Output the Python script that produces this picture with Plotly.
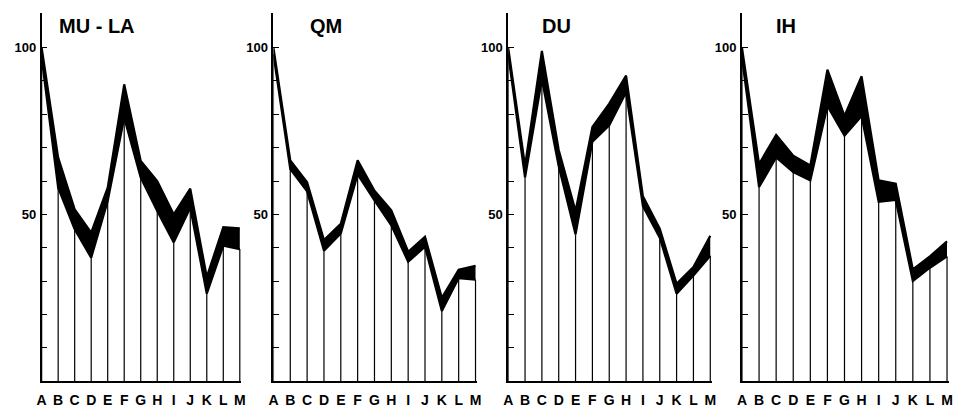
import plotly.graph_objects as go

categories = ["A", "B", "C", "D", "E", "F", "G", "H", "I", "J", "K", "L", "M"]
panel_titles = ["MU - LA", "QM", "DU", "IH"]

mula_upper = [100, 67, 51.5, 44.5, 58, 89, 66, 60, 50, 57.7, 31.2, 46.2, 45.8]
mula_lower = [97, 58, 45.5, 37, 54, 79, 61, 51, 41.6, 52, 26.2, 40.6, 39.6]

qm_upper = [100, 66.2, 59.6, 42.3, 47.2, 66.2, 57.1, 51.2, 38.8, 43.3, 25, 33.4, 34.6]
qm_lower = [98, 63.6, 56.9, 39.1, 44.3, 62, 54.2, 46.7, 35.8, 40.3, 21, 30.9, 30.4]

du_upper = [100, 64.5, 99, 69.3, 51, 76.2, 83.2, 91.6, 55.4, 45.7, 29.2, 34.2, 43.6]
du_lower = [98, 61, 90.5, 64.4, 44, 71.8, 76.7, 86.6, 52.5, 43, 26.2, 31.7, 37.6]

ih_upper = [100, 65.1, 73.8, 67.6, 64.7, 93.4, 79.5, 91.4, 60.2, 59.2, 33.5, 37.4, 41.9]
ih_lower = [97, 58.2, 67.1, 62.7, 60.2, 82.5, 73.6, 79.5, 53.8, 54.3, 30, 34, 37.4]

y_tickvals = [0, 10, 20, 30, 40, 50, 60, 70, 80, 90, 100]
y_ticktext = ["", "", "", "", "", "50", "", "", "", "", "100"]

series = [(mula_upper, mula_lower), (qm_upper, qm_lower),
          (du_upper, du_lower), (ih_upper, ih_lower)]

W, H = 953, 408
# pixel layout per panel: (x of first category, spacing), title x
panel_px = [(37, 16.67, 52), (271, 17.0, 306), (508, 17.0, 540), (744, 17.25, 776)]
XR = 12.1
y0_px, ytop_px = 383, 13
YR = 110.4

fig = go.Figure()
layout = dict(
    width=W, height=H, margin=dict(l=0, r=0, t=0, b=0),
    paper_bgcolor="white", plot_bgcolor="white", showlegend=False,
)

xpos = list(range(len(categories)))
for k, ((up, lo), (p0, s, tx)) in enumerate(zip(series, panel_px)):
    n = "" if k == 0 else str(k + 1)
    xa, ya = "x" + n, "y" + n
    # vertical drop lines from axis to lower edge
    vx, vy = [], []
    for i, v in enumerate(lo):
        vx += [xpos[i], xpos[i], None]
        vy += [0, v, None]
    fig.add_trace(go.Scatter(x=vx, y=vy, mode="lines", xaxis=xa, yaxis=ya,
                             line=dict(color="black", width=1.2), hoverinfo="skip"))
    fig.add_trace(go.Scatter(x=xpos, y=lo, mode="lines", xaxis=xa, yaxis=ya,
                             line=dict(color="black", width=2.2), hoverinfo="skip"))
    fig.add_trace(go.Scatter(x=xpos, y=up, mode="lines", xaxis=xa, yaxis=ya,
                             fill="tonexty", fillcolor="black",
                             line=dict(color="black", width=2.2), hoverinfo="skip"))
    d0 = p0 / W
    d1 = min((p0 + XR * s) / W, 1.0)
    layout["xaxis" + n] = dict(
        domain=[d0, d1], range=[0, XR], anchor=ya,
        tickmode="array", tickvals=xpos,
        ticktext=["<b>%s</b>" % c for c in categories],
        ticks="", ticklabelstandoff=5,
        tickfont=dict(family="Liberation Sans", size=14, color="black"),
        showgrid=False, zeroline=False,
        showline=True, linecolor="black", linewidth=1.6,
    )
    layout["yaxis" + n] = dict(
        domain=[1 - y0_px / H, 1 - ytop_px / H], range=[0, YR], anchor=xa,
        tickmode="array", tickvals=y_tickvals,
        ticktext=["<b>%s</b>" % t if t else "" for t in y_ticktext],
        ticks="inside", ticklen=6, tickwidth=1.2, tickcolor="black",
        ticklabelstandoff=1,
        tickfont=dict(family="Liberation Sans", size=13, color="black"),
        showgrid=False, zeroline=False,
        showline=True, linecolor="black", linewidth=1.6,
    )
    fig.add_annotation(text="<b>%s</b>" % panel_titles[k], xref="paper", yref="paper",
                       x=tx / W, y=1 - 26 / H, xanchor="left", yanchor="middle",
                       showarrow=False,
                       font=dict(family="Liberation Sans", size=20, color="black"))

fig.update_layout(**layout)
fig.write_html("out.html")
